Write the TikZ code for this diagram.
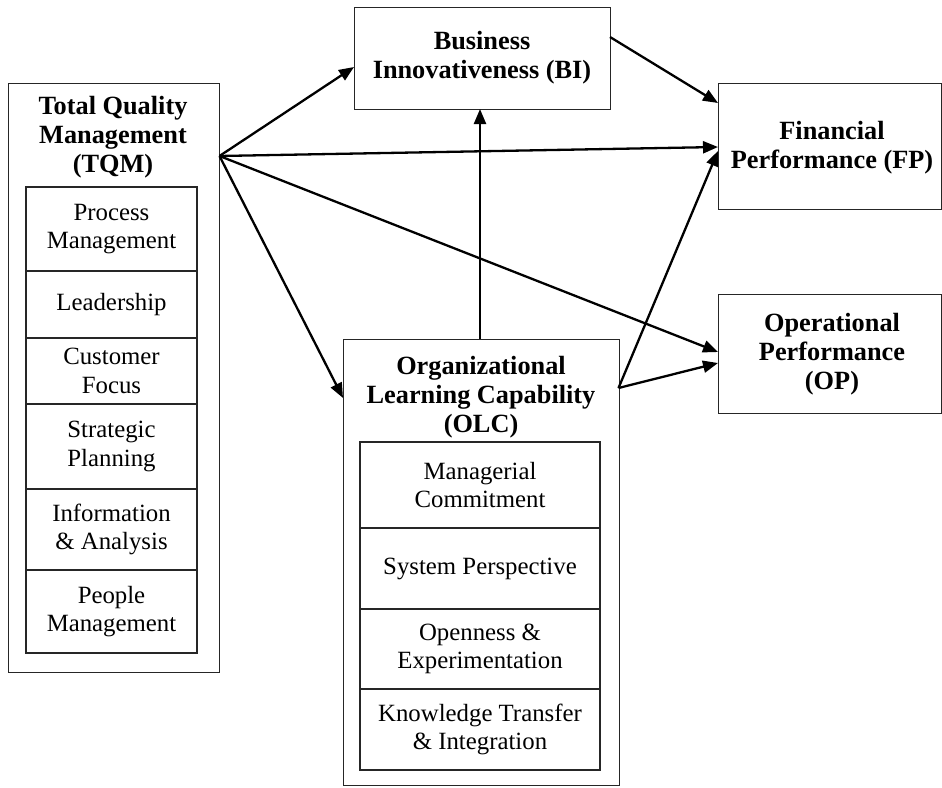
\documentclass[tikz,border=0pt]{standalone}
\usepackage{fontspec}
\setmainfont{Liberation Serif}
\usetikzlibrary{arrows.meta}
\newcommand\bodytext{\fontsize{24.8}{28.5}\selectfont}
\newcommand\headtext{\fontsize{26.3}{29}\selectfont\bfseries}
\begin{document}
\begin{tikzpicture}[x=1pt,y=-1pt,
  frame/.style={draw=black!85, line width=1.3pt, inner sep=0pt, anchor=north west},
  head/.style={align=center, inner sep=0pt, font=\headtext},
  tqmcell/.style={draw=black!85, line width=1.2pt, inner sep=0pt, minimum width=171pt, align=center, font=\bodytext},
  olccell/.style={draw=black!85, line width=1.2pt, inner sep=0pt, minimum width=240pt, align=center, font=\bodytext},
  link/.style={line width=2.3pt, -{Triangle[length=15pt,width=12pt]}}
]
\useasboundingbox (0,0) rectangle (942,787);

% Total Quality Management with its six dimensions
\node[frame, minimum width=211pt, minimum height=589pt] (tqm) at (7.5,83) {};
\node[head] (tqmtitle) at (113,137) {Total Quality\\Management\\(TQM)};
\node[tqmcell, minimum height=84pt] (pm) at (111.5,229) {Process\\Management};
\node[tqmcell, minimum height=67pt] (lead) at (111.5,304.5) {Leadership};
\node[tqmcell, minimum height=66pt] (cf) at (111.5,371) {Customer\\Focus};
\node[tqmcell, minimum height=85pt] (sp) at (111.5,446.5) {Strategic\\Planning};
\node[tqmcell, minimum height=81pt] (ia) at (111.5,529.5) {Information\\\& Analysis};
\node[tqmcell, minimum height=83pt] (peo) at (111.5,611.5) {People\\Management};

% Organizational Learning Capability with its four dimensions
\node[frame, minimum width=276pt, minimum height=446pt] (olc) at (343,339) {};
\node[head] (olctitle) at (481,397) {Organizational\\Learning Capability\\(OLC)};
\node[olccell, minimum height=86pt] (mc) at (480,485) {Managerial\\Commitment};
\node[olccell, minimum height=81pt] (sysp) at (480,568.5) {System Perspective};
\node[olccell, minimum height=80pt] (oe) at (480,649) {Openness \&\\Experimentation};
\node[olccell, minimum height=81pt] (kt) at (480,729.5) {Knowledge Transfer\\\& Integration};

% Innovativeness and performance constructs
\node[frame, minimum width=256pt, minimum height=102pt] (bi) at (354,7) {};
\node[head] (bititle) at (482,58) {Business\\Innovativeness (BI)};
\node[frame, minimum width=223pt, minimum height=126pt] (fp) at (718,83) {};
\node[head] (fptitle) at (832,148) {Financial\\Performance (FP)};
\node[frame, minimum width=223pt, minimum height=119pt] (op) at (718,294) {};
\node[head] (optitle) at (832,354) {Operational\\Performance\\(OP)};

% Connector end points on the box borders
\coordinate (tqmout) at (219.5,156);
\coordinate (biin) at (354,67);
\coordinate (biout) at (610,37);
\coordinate (bidown) at (480,109);
\coordinate (olcup) at (480,339);
\coordinate (olcin) at (343,398);
\coordinate (olcout) at (618.5,388);
\coordinate (fpa) at (718,103);
\coordinate (fpb) at (718,147);
\coordinate (fpc) at (718,151);
\coordinate (opa) at (718,352);
\coordinate (opb) at (718,363);

% Hypothesised paths
\draw[link] (tqmout) -- (biin);
\draw[link] (tqmout) -- (fpb);
\draw[link] (tqmout) -- (opa);
\draw[link] (tqmout) -- (olcin);
\draw[link] (olcup) -- (bidown);
\draw[link] (biout) -- (fpa);
\draw[link] (olcout) -- (fpc);
\draw[link] (olcout) -- (opb);
\end{tikzpicture}
\end{document}
